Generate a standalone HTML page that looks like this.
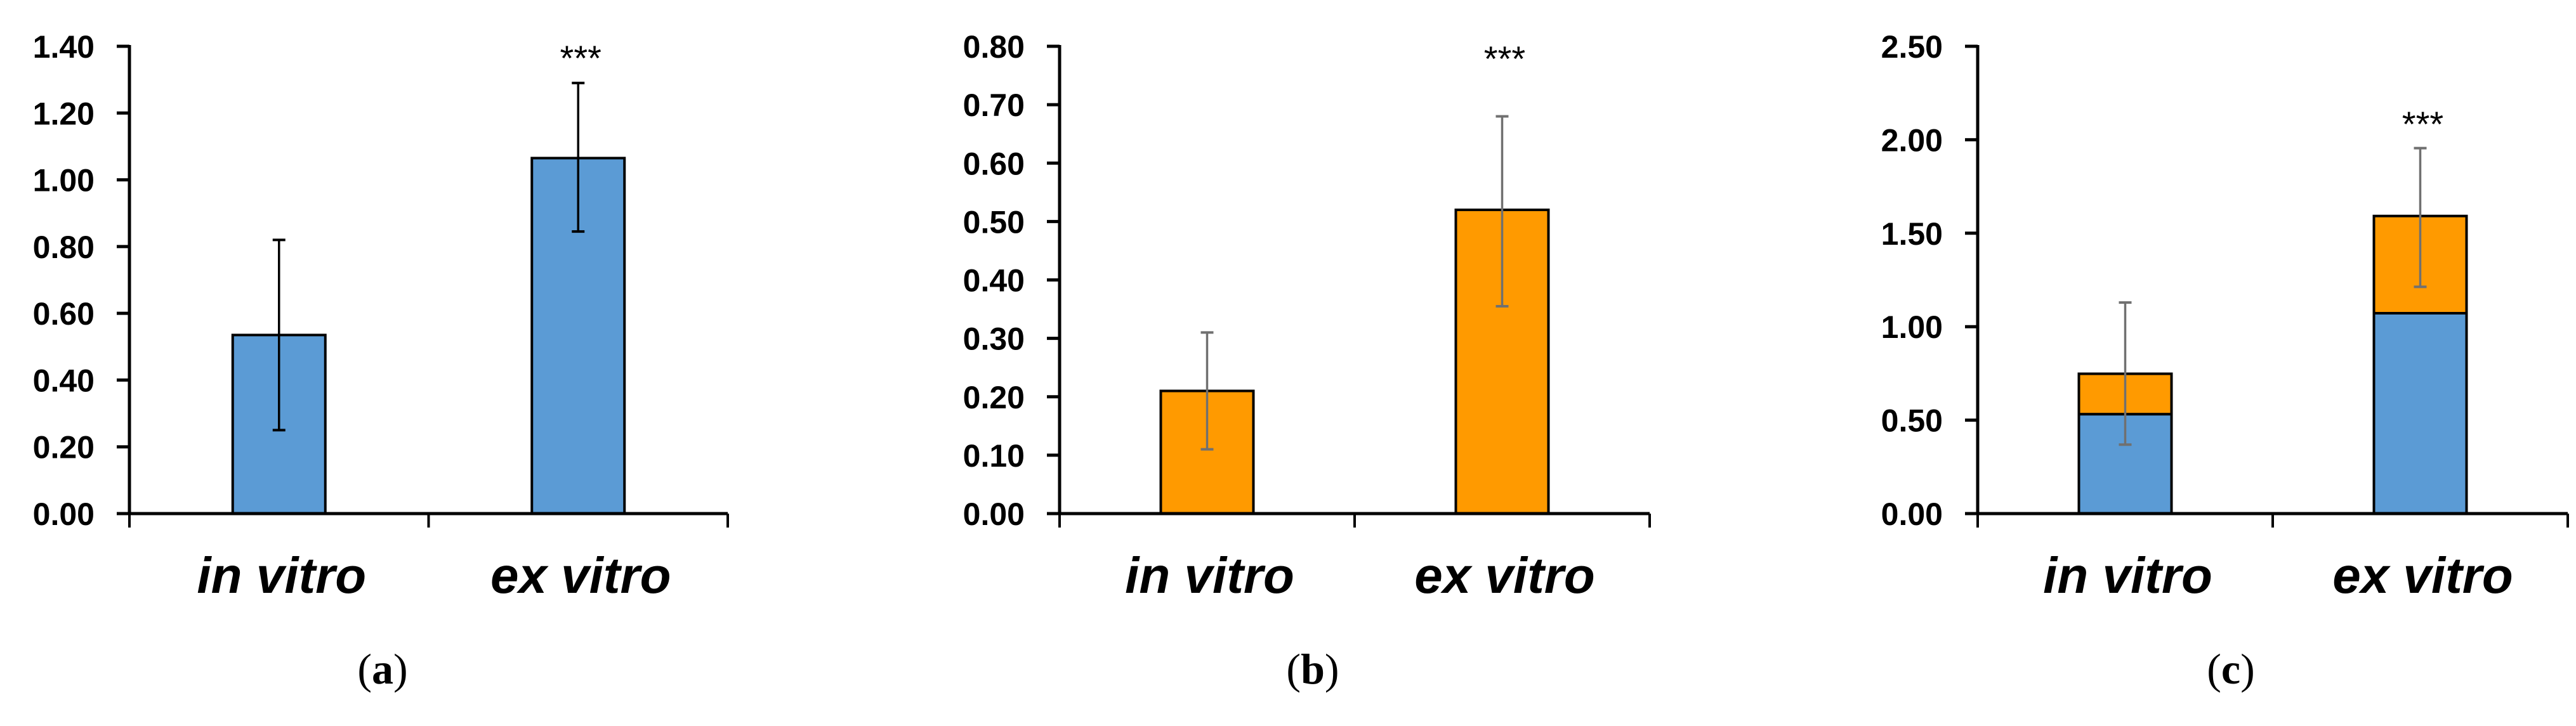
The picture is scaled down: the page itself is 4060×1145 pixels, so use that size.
<!DOCTYPE html>
<html><head><meta charset="utf-8"><style>
html,body{margin:0;padding:0;background:#fff;}
svg{display:block;}
</style></head><body>
<svg id="fig" width="4060" height="1145" viewBox="0 0 4060 1145" xmlns="http://www.w3.org/2000/svg"></svg>
<script>
const categories = ["in vitro", "ex vitro"];
const aValues = [0.535, 1.065];
const aErrLow = [0.25, 0.845];
const aErrHigh = [0.82, 1.29];
const aTicks = ["0.00","0.20","0.40","0.60","0.80","1.00","1.20","1.40"];
const bValues = [0.21, 0.52];
const bErrLow = [0.11, 0.355];
const bErrHigh = [0.31, 0.68];
const bTicks = ["0.00","0.10","0.20","0.30","0.40","0.50","0.60","0.70","0.80"];
const cBlue = [0.532, 1.072];
const cOrange = [0.216, 0.52];
const cErrLow = [0.369, 1.213];
const cErrHigh = [1.129, 1.955];
const cTicks = ["0.00","0.50","1.00","1.50","2.00","2.50"];
const stars = ["", "***"];

const NS = "http://www.w3.org/2000/svg";
const svg = document.getElementById("fig");
function el(tag, attrs, parent){
  const e = document.createElementNS(NS, tag);
  for (const k in attrs) e.setAttribute(k, attrs[k]);
  (parent||svg).appendChild(e);
  return e;
}
const BLUE = "#5B9BD5", ORANGE = "#FF9A00";
const Y0 = 810, YTOP = 73;

function panel(opts){
  const g = el("g", {});
  
  
  const x0 = opts.x0, w = opts.w;
  const ymax = opts.ymax;
  const y = v => Y0 - (v / ymax) * (Y0 - YTOP);
  const xc = i => x0 + w * (2 * i + 1) / 4;
  const bw = 146;
  opts.ticks.forEach((t) => {
    const v = parseFloat(t);
    const ln = el("line", {x1: x0 - 20, x2: x0, y1: y(v), y2: y(v), stroke: "#000", "stroke-width": 5}, g);
    
    
    const tx = el("text", {x: x0 - 55, y: y(v) + 18, "text-anchor": "end", "font-family": "Liberation Sans, sans-serif", "font-weight": "bold", "font-size": 50, fill: "#000"}, g);
    tx.textContent = t;
    
    
  });
  categories.forEach((c, i) => {
    const cx = xc(i);
    opts.series.forEach((s) => {
      const base = s.base ? s.base[i] : 0;
      const top = base + s.vals[i];
      const r = el("rect", {x: cx - bw/2, y: y(top), width: bw, height: y(base) - y(top), fill: s.color, stroke: "#000", "stroke-width": 4}, g);
      
      
    });
    const ec = opts.errColor;
    const e1 = el("line", {x1: cx, x2: cx, y1: y(opts.errHigh[i]), y2: y(opts.errLow[i]), stroke: ec, "stroke-width": 3.5}, g);
    
    
    [opts.errHigh[i], opts.errLow[i]].forEach(v => {
      const cap = el("line", {x1: cx - 10, x2: cx + 10, y1: y(v), y2: y(v), stroke: ec, "stroke-width": 4}, g);
      
      
    });
    if (stars[i]) {
      const st = el("text", {x: cx + 4, y: y(opts.starVal) + 30, "text-anchor": "middle", "font-family": "Liberation Sans, sans-serif", "font-size": 56, fill: "#000"}, g);
      st.textContent = stars[i];
      
      
    }
    const lab = el("text", {x: cx + 4, y: 935, "text-anchor": "middle", "font-family": "Liberation Sans, sans-serif", "font-weight": "bold", "font-style": "italic", "font-size": 80, fill: "#000"}, g);
    lab.textContent = c;
    
    
  });
  const ya = el("line", {x1: x0, x2: x0, y1: YTOP - 2, y2: Y0 + 2, stroke: "#000", "stroke-width": 5}, g);
  
  
  const xa = el("line", {x1: x0 - 20, x2: x0 + w, y1: Y0, y2: Y0, stroke: "#000", "stroke-width": 5}, g);
  
  
  [0, 0.5, 1].forEach(f => {
    const t = el("line", {x1: x0 + w*f, x2: x0 + w*f, y1: Y0, y2: Y0 + 22, stroke: "#000", "stroke-width": 4}, g);
    
    
  });
  const cap = el("text", {x: x0 + 399, y: 1078, "text-anchor": "middle", "font-family": "Liberation Serif, serif", "font-size": 68, fill: "#000"}, g);
  
  
  cap.appendChild(document.createTextNode("("));
  const b = el("tspan", {"font-weight": "bold"}, cap);
  b.textContent = opts.id;
  cap.appendChild(document.createTextNode(")"));
}

panel({id: "a", x0: 204, w: 943, ymax: 1.4, ticks: aTicks, errColor: "#000",
  series: [{name: "blue", vals: aValues, color: BLUE}], errLow: aErrLow, errHigh: aErrHigh, starVal: 1.385});
panel({id: "b", x0: 1670, w: 930, ymax: 0.8, ticks: bTicks, errColor: "#707070",
  series: [{name: "orange", vals: bValues, color: ORANGE}], errLow: bErrLow, errHigh: bErrHigh, starVal: 0.79});
panel({id: "c", x0: 3117, w: 930, ymax: 2.5, ticks: cTicks, errColor: "#707070",
  series: [{name: "blue", vals: cBlue, color: BLUE}, {name: "orange", vals: cOrange, base: cBlue, color: ORANGE}],
  errLow: cErrLow, errHigh: cErrHigh, starVal: 2.12});
</script>
</body></html>
